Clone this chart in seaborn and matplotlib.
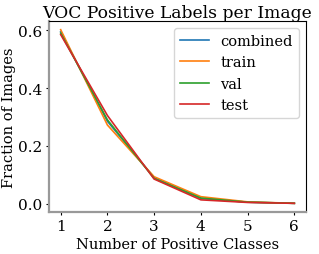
import matplotlib
matplotlib.use("Agg")
import matplotlib.pyplot as plt
import pandas as pd
import seaborn as sns

num_classes = [1, 2, 3, 4, 5, 6]
combined = [0.595, 0.285, 0.090, 0.018, 0.005, 0.001]
train = [0.602, 0.272, 0.093, 0.024, 0.006, 0.001]
val = [0.590, 0.290, 0.087, 0.019, 0.005, 0.001]
test = [0.585, 0.305, 0.085, 0.013, 0.004, 0.001]

plt.rcParams["font.family"] = ["DejaVu Serif"]

rows = []
for name, vals in [("combined", combined), ("train", train), ("val", val), ("test", test)]:
    for x, y in zip(num_classes, vals):
        rows.append({"k": x, "frac": y, "split": name})
df = pd.DataFrame(rows)

fig = plt.figure(figsize=(3.19, 2.55), dpi=100)
ax = fig.add_axes([49 / 319, 1 - 213 / 255, 257 / 319, 191 / 255])
sns.lineplot(data=df, x="k", y="frac", hue="split", ax=ax, linewidth=1.2)
ax.set_title("VOC Positive Labels per Image", fontsize=12.3, pad=3)
ax.set_xlabel("Number of Positive Classes", fontsize=10.5, labelpad=3)
ax.set_ylabel("Fraction of Images", fontsize=10.5, labelpad=1)
ax.set_xticks(num_classes)
ax.set_yticks([0.0, 0.2, 0.4, 0.6])
ax.tick_params(labelsize=11, pad=2.5, length=2.5)
for side in ["left", "bottom"]:
    ax.spines[side].set_color("#999999")
    ax.spines[side].set_linewidth(1.6)
ax.legend(title=None, fontsize=10.5, loc="upper right", handlelength=2.0)
plt.savefig("out.png", dpi=100)
plt.close()
